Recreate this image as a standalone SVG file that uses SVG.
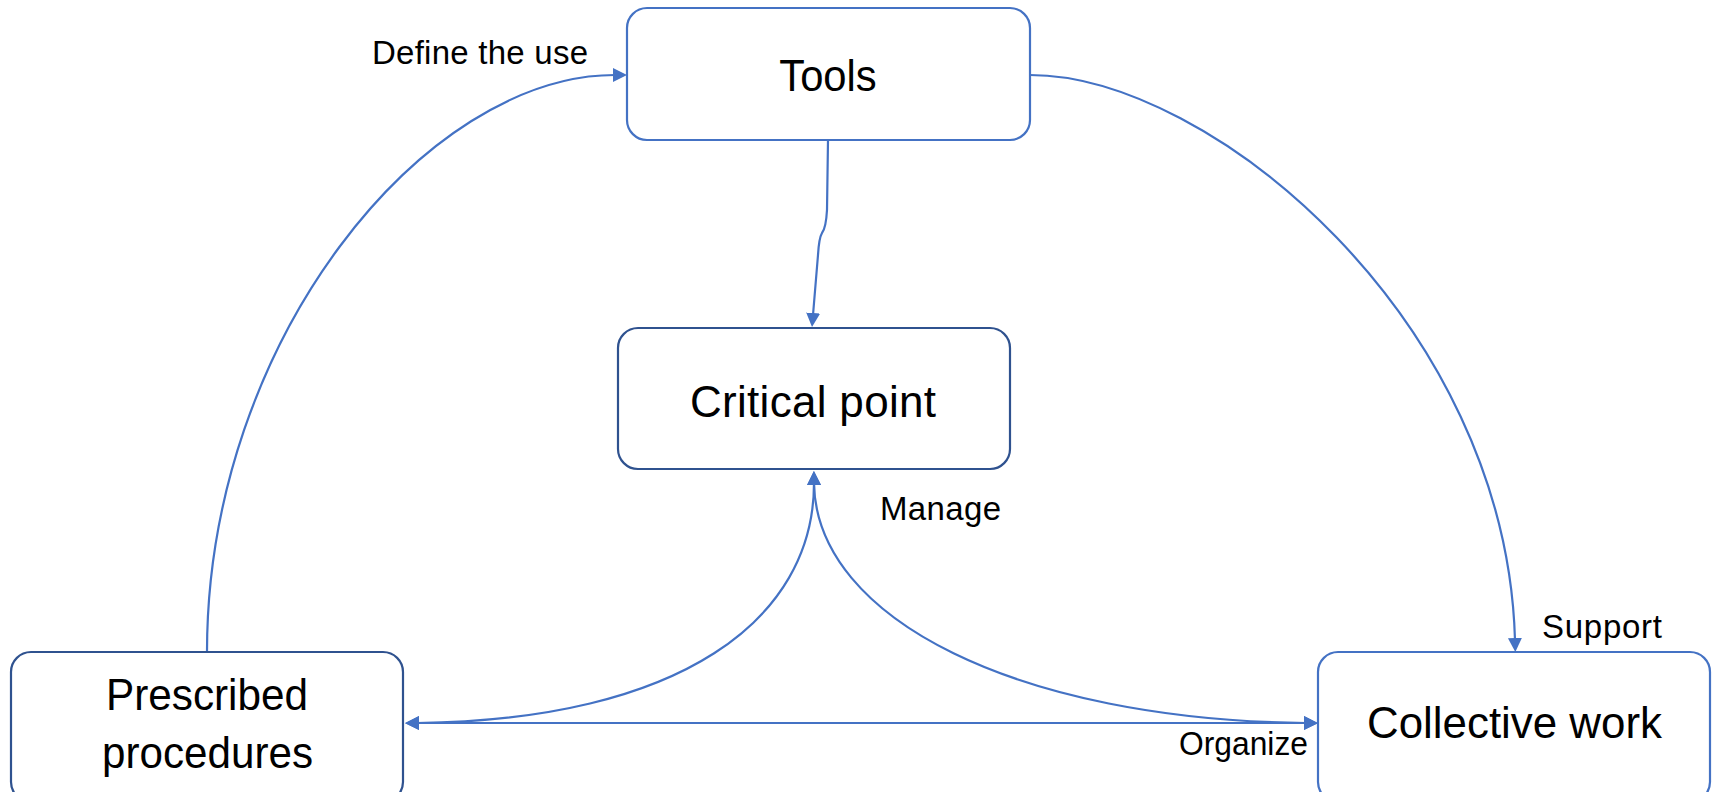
<svg xmlns="http://www.w3.org/2000/svg" width="1718" height="792" viewBox="0 0 1718 792">
<style>
.box{fill:#fff;stroke-width:2.2}
.lt{stroke:#4472C4}
.dk{stroke:#2F528F}
.node{font-family:"Liberation Sans",Arial,sans-serif;font-size:44px;fill:#000}
.lbl{font-family:"Liberation Sans",Arial,sans-serif;font-size:33px;fill:#000}
.conn path{fill:none;stroke:#4472C4;stroke-width:2.2}
</style>
<defs>
<marker id="ah" markerUnits="userSpaceOnUse" markerWidth="16" markerHeight="16" refX="2" refY="7" orient="auto-start-reverse">
<path d="M0,0 L14,7 L0,14 z" fill="#4472C4"/>
</marker>
</defs>
<rect width="1718" height="792" fill="#fff"/>
<g id="connectors" class="conn">
<path id="c-define" d="M207,652 C207,340 425,75 615,75" marker-end="url(#ah)"/>
<path id="c-tools-crit" d="M828,140 L827,210 Q826,228 822,233 Q819,238 818,255 L813,315" marker-end="url(#ah)"/>
<path id="c-support" d="M1030,75 C1210,75 1506,320 1515,640" marker-end="url(#ah)"/>
<path id="c-crit-pres" d="M814,483 C814,620 680,720 417,723" marker-start="url(#ah)" marker-end="url(#ah)"/>
<path id="c-crit-coll" d="M814,483 C816,620 1020,720 1306,723" marker-start="url(#ah)" marker-end="url(#ah)"/>
<path id="c-organize" d="M417,723 L1306,723" marker-start="url(#ah)" marker-end="url(#ah)"/>
</g>
<g id="node-tools">
<rect class="box lt" x="627" y="8" width="403" height="132" rx="20"/>
<text class="node" x="779.25" y="91" textLength="97.5" lengthAdjust="spacingAndGlyphs">Tools</text>
</g>
<g id="node-critical">
<rect class="box dk" x="618" y="328" width="392" height="141" rx="20"/>
<text class="node" x="690" y="417" textLength="246">Critical point</text>
</g>
<g id="node-prescribed">
<rect class="box dk" x="11" y="652" width="392" height="150" rx="20"/>
<text class="node" x="106" y="710" textLength="202" lengthAdjust="spacingAndGlyphs">Prescribed</text>
<text class="node" x="102" y="768" textLength="211" lengthAdjust="spacingAndGlyphs">procedures</text>
</g>
<g id="node-collective">
<rect class="box lt" x="1318" y="652" width="392" height="150" rx="20"/>
<text class="node" x="1367" y="738" textLength="295" lengthAdjust="spacingAndGlyphs">Collective work</text>
</g>
<g id="labels">
<text class="lbl" x="372" y="64" textLength="216">Define the use</text>
<text class="lbl" x="880" y="520" textLength="121">Manage</text>
<text class="lbl" x="1542" y="638" textLength="120">Support</text>
<text class="lbl" x="1179" y="755" textLength="129" lengthAdjust="spacingAndGlyphs">Organize</text>
</g>
</svg>
